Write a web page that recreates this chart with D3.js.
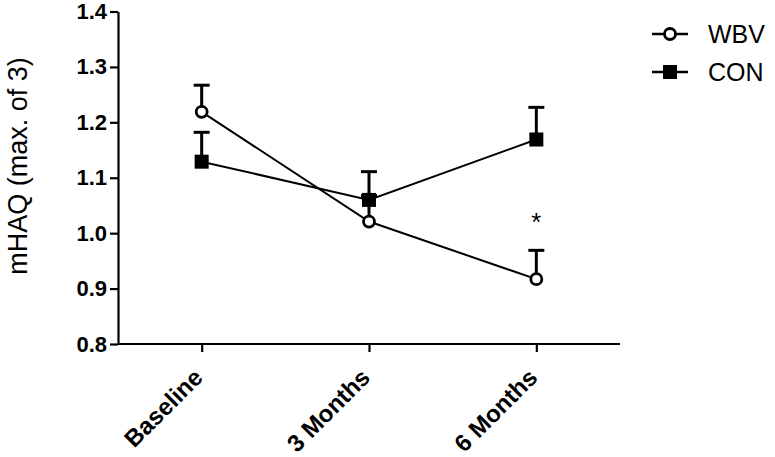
<!DOCTYPE html>
<html>
<head>
<meta charset="utf-8">
<script src="https://cdn.jsdelivr.net/npm/d3@7"></script>
<style>
  body { margin: 0; background: #fff; }
  svg { display: block; font-family: "Liberation Sans", Arial, sans-serif; }
</style>
</head>
<body>
<svg id="chart" width="775" height="457"></svg>
<script>
// data
var categories = ["Baseline", "3 Months", "6 Months"];
var wbvMean = [1.219, 1.021, 0.917];
var wbvUpper = [1.267, 1.068, 0.969];
var conMean = [1.129, 1.060, 1.169];
var conUpper = [1.182, 1.111, 1.227];
var yTicks = [0.8, 0.9, 1.0, 1.1, 1.2, 1.3, 1.4];
var seriesNames = ["WBV", "CON"];

var svg = d3.select("#chart");

// plot frame
var plotLeft = 118, plotRight = 620, plotTop = 11.5, plotBottom = 344;

var x = d3.scalePoint()
    .domain(categories)
    .range([plotLeft, plotRight])
    .padding(0.5);

var y = d3.scaleLinear()
    .domain([0.8, 1.4])
    .range([plotBottom, plotTop]);

// y axis
var yAxis = svg.append("g")
    .attr("transform", "translate(" + plotLeft + ",0)")
    .call(d3.axisLeft(y).tickValues(yTicks).tickFormat(d3.format(".1f")).tickSize(8).tickSizeOuter(0));
yAxis.select(".domain").attr("stroke-width", 2.2);
yAxis.selectAll(".tick line").attr("stroke-width", 2.2);
yAxis.selectAll(".tick text")
    .attr("font-size", 22)
    .attr("font-weight", "bold")
    .attr("fill", "#000")
    .attr("x", -11);

// x axis
var xAxis = svg.append("g")
    .attr("transform", "translate(0," + plotBottom + ")")
    .call(d3.axisBottom(x).tickSize(8).tickSizeOuter(0));
xAxis.select(".domain").attr("d", "M" + plotLeft + ",0H" + plotRight).attr("stroke-width", 2.2);
xAxis.selectAll(".tick line").attr("stroke-width", 2.2);
xAxis.selectAll(".tick text")
    .attr("font-size", 24)
    .attr("font-weight", "bold")
    .attr("fill", "#000")
    .attr("text-anchor", "end")
    .attr("dy", 0)
    .attr("y", 0)
    .attr("transform", "translate(2,35) rotate(-45)");

// y label
svg.append("text")
    .attr("transform", "translate(27,166) rotate(-90)")
    .attr("text-anchor", "middle")
    .attr("font-size", 27)
    .text("mHAQ (max. of 3)");

var line = d3.line()
    .x(function (d, i) { return x(categories[i]); })
    .y(function (d) { return y(d); });

function errorBars(means, uppers) {
    var g = svg.append("g").attr("stroke", "#000").attr("stroke-width", 3);
    g.selectAll("line.stem")
        .data(means)
        .enter().append("line")
        .attr("x1", function (d, i) { return x(categories[i]); })
        .attr("x2", function (d, i) { return x(categories[i]); })
        .attr("y1", function (d) { return y(d); })
        .attr("y2", function (d, i) { return y(uppers[i]); });
    g.selectAll("line.cap")
        .data(uppers)
        .enter().append("line")
        .attr("x1", function (d, i) { return x(categories[i]) - 8; })
        .attr("x2", function (d, i) { return x(categories[i]) + 8; })
        .attr("y1", function (d) { return y(d); })
        .attr("y2", function (d) { return y(d); });
}

// WBV
errorBars(wbvMean, wbvUpper);
svg.append("path")
    .datum(wbvMean)
    .attr("fill", "none")
    .attr("stroke", "#000")
    .attr("stroke-width", 2)
    .attr("d", line);
svg.selectAll("circle.wbv")
    .data(wbvMean)
    .enter().append("circle")
    .attr("class", "wbv")
    .attr("cx", function (d, i) { return x(categories[i]); })
    .attr("cy", function (d) { return y(d); })
    .attr("r", 5.5)
    .attr("fill", "#fff")
    .attr("stroke", "#000")
    .attr("stroke-width", 2.8);

// CON
errorBars(conMean, conUpper);
svg.append("path")
    .datum(conMean)
    .attr("fill", "none")
    .attr("stroke", "#000")
    .attr("stroke-width", 2)
    .attr("d", line);
svg.selectAll("rect.con")
    .data(conMean)
    .enter().append("rect")
    .attr("class", "con")
    .attr("x", function (d, i) { return x(categories[i]) - 7; })
    .attr("y", function (d) { return y(d) - 7; })
    .attr("width", 14)
    .attr("height", 14)
    .attr("fill", "#000");

// significance marker
svg.append("text")
    .attr("x", x("6 Months"))
    .attr("y", 231)
    .attr("text-anchor", "middle")
    .attr("font-size", 26)
    .text("*");

// legend
var legend = svg.append("g").attr("transform", "translate(652,0)");
seriesNames.forEach(function (name, i) {
    var ly = 34 + i * 38;
    legend.append("line")
        .attr("x1", 0).attr("x2", 36)
        .attr("y1", ly).attr("y2", ly)
        .attr("stroke", "#000").attr("stroke-width", 2.5);
    if (i === 0) {
        legend.append("circle")
            .attr("cx", 18).attr("cy", ly).attr("r", 5.5)
            .attr("fill", "#fff").attr("stroke", "#000").attr("stroke-width", 2.8);
    } else {
        legend.append("rect")
            .attr("x", 11).attr("y", ly - 7).attr("width", 14).attr("height", 14)
            .attr("fill", "#000");
    }
    legend.append("text")
        .attr("x", 56)
        .attr("y", ly + 9)
        .attr("font-size", 25)
        .text(name);
});
</script>
</body>
</html>
